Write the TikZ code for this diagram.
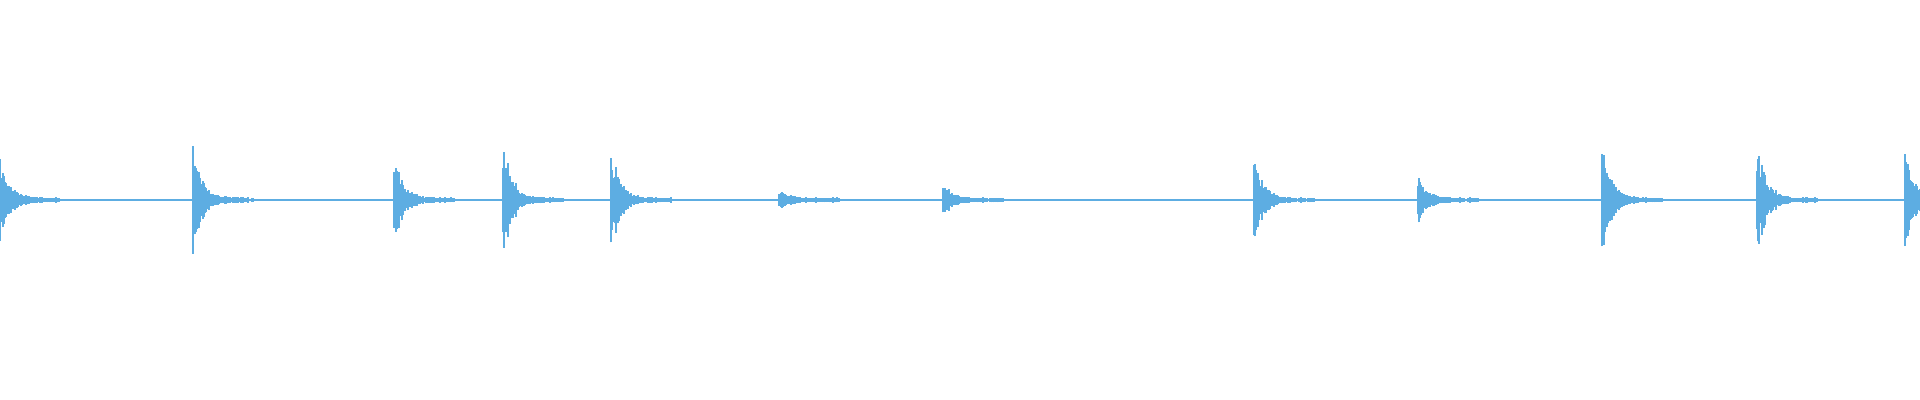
\documentclass[tikz,border=0pt]{standalone}
\definecolor{wave}{RGB}{93,173,226}
\newcommand{\burst}[2]{% onset x, peak amplitude
  \foreach \k in {0,...,60}{
    \pgfmathsetmacro{\h}{#2*exp(-\k/9)*(0.45+0.55*rnd)+1+1.5*rnd}
    \draw[wave,line width=0.5pt] (#1+\k,200-\h) -- (#1+\k,200+\h);
  }}
\begin{document}
\begin{tikzpicture}[x=0.01cm,y=0.01cm]
\pgfmathsetseed{7}
\useasboundingbox (0,0) rectangle (1920,400);
% baseline
\fill[wave] (0,198.8) rectangle (1920,201.2);
% onsets
\burst{0}{43}
\burst{193}{56}
\burst{394}{45}
\burst{503}{64}
\burst{611}{55}
\burst{779}{10}
\burst{943}{16}
\burst{1254}{45}
\burst{1418}{24}
\burst{1602}{59}
\burst{1757}{60}
\burst{1905}{50}
\end{tikzpicture}
\end{document}
